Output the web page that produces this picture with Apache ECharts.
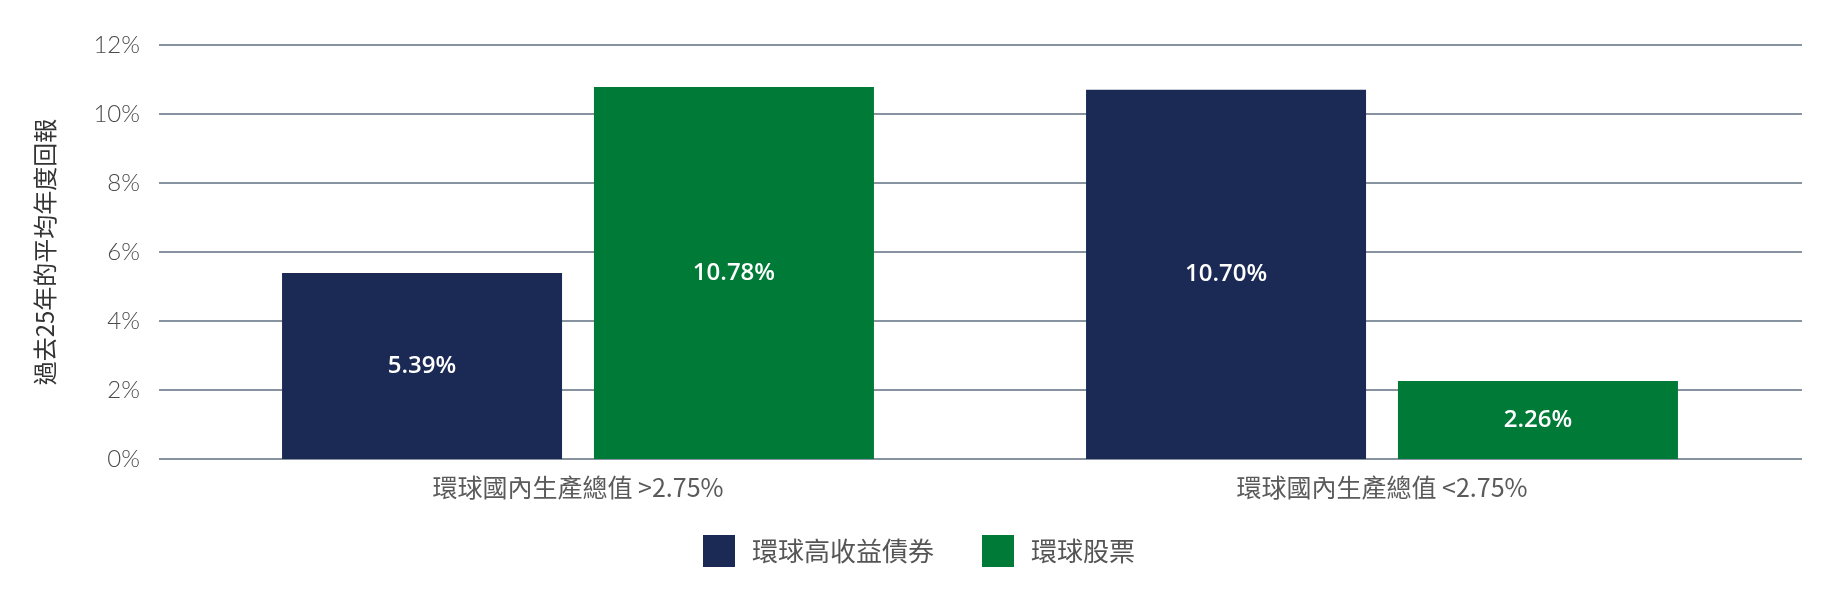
<!DOCTYPE html>
<html>
<head>
<meta charset="utf-8">
<script src="https://cdn.jsdelivr.net/npm/echarts@6/dist/echarts.min.js"></script>
<style>
html,body{margin:0;padding:0;background:#fff;}
#chart{width:1836px;height:600px;}
</style>
</head>
<body>
<div id="chart"></div>
<script>
var categories=['環球國內生產總值 >2.75%','環球國內生產總值 <2.75%'];
var seriesNames=['環球高收益債券','環球股票'];
var highYield=[5.39,10.70];
var equities=[10.78,2.26];
var yName='過去25年的平均年度回報';

var cjk='"Noto Sans CJK TC","Noto Sans CJK SC",sans-serif';
var navy='#1b2a55';
var green='#007a37';
var gridColor='#8793a0';

function valueLabel(){
    return {
        show:true,
        position:'inside',
        color:'#fff',
        fontFamily:'"Open Sans",sans-serif',
        fontWeight:600,
        fontSize:24,
        formatter:function(p){return p.value.toFixed(2)+'%';}
    };
}

var chart=echarts.init(document.getElementById('chart'));
var option={
    backgroundColor:'#fff',
    animation:false,
    grid:[
        {left:159,right:34,top:45,bottom:141},
        {left:176,right:52,top:45,bottom:141}
    ],
    legend:{
        data:seriesNames,
        left:698,
        top:530,
        itemWidth:32,
        itemHeight:32,
        itemGap:48,
        icon:'rect',
        textStyle:{
            fontFamily:cjk,
            fontSize:26,
            color:'#555',
            padding:[0,0,0,12]
        }
    },
    xAxis:[
        {type:'category',gridIndex:0,data:categories,show:false},
        {
            type:'category',
            gridIndex:1,
            data:categories,
            axisLine:{show:false},
            axisTick:{show:false},
            axisLabel:{
                margin:16,
                fontFamily:cjk,
                fontSize:25,
                color:'#5a5a5a'
            }
        }
    ],
    yAxis:[
        {
            type:'value',
            gridIndex:0,
            min:0,
            max:12,
            interval:2,
            name:yName,
            nameLocation:'middle',
            nameGap:102,
            nameTextStyle:{
                fontFamily:cjk,
                fontSize:24,
                color:'#333'
            },
            axisLine:{show:false},
            axisTick:{show:false},
            axisLabel:{
                margin:19,
                fontFamily:'Lato,sans-serif',
                fontWeight:300,
                fontSize:24,
                color:'#4a4a4a',
                formatter:'{value}%'
            },
            splitLine:{lineStyle:{color:gridColor,width:2}}
        },
        {
            type:'value',
            gridIndex:1,
            min:0,
            max:12,
            interval:2,
            show:false,
            splitLine:{show:false}
        }
    ],
    series:[
        {
            name:seriesNames[0],
            type:'bar',
            xAxisIndex:1,
            yAxisIndex:1,
            data:highYield,
            barWidth:280,
            barGap:'11.4%',
            itemStyle:{color:navy},
            label:valueLabel()
        },
        {
            name:seriesNames[1],
            type:'bar',
            xAxisIndex:1,
            yAxisIndex:1,
            data:equities,
            barWidth:280,
            barGap:'11.4%',
            itemStyle:{color:green},
            label:valueLabel()
        }
    ]
};
chart.setOption(option);
</script>
</body>
</html>
